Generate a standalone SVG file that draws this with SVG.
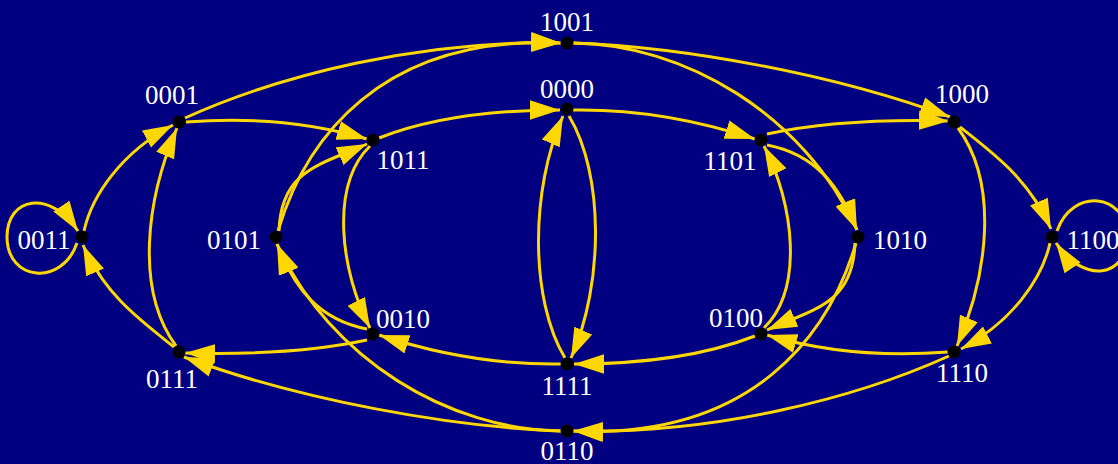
<svg xmlns="http://www.w3.org/2000/svg" width="1118" height="464" viewBox="0 0 1118 464">
<style>
.e{fill:none;stroke:#FFD700;stroke-width:3;marker-end:url(#arr)}
.n{fill:#000000}
.t{fill:#FFFFFF;font-family:"Liberation Serif","Times New Roman",serif;font-size:27px;text-anchor:middle}
</style>
<defs>
<marker id="arr" viewBox="0 0 30 20" refX="30" refY="10" markerWidth="30" markerHeight="20" markerUnits="userSpaceOnUse" orient="auto">
<path d="M0,0.3 L30,10 L0,19.7 Z" fill="#FFD700"/>
</marker>
</defs>
<rect x="0" y="0" width="1118" height="464" fill="#000080"/>
<g id="connectors">
<path class="e" d="M77,243 C62,287 7,281 7,237 C7,197 50,189 78,231"/>
<path class="e" d="M84,231 C92,195 122,152 173,125"/>
<path class="e" d="M174,347 C140,320 105,295 83,245"/>
<path class="e" d="M176,346 C135,290 146,200 177,128"/>
<path class="e" d="M185,118 C280,75 420,40 561,43"/>
<path class="e" d="M186,122 C250,117 310,122 367,139"/>
<path class="e" d="M278,231 C305,140 380,35 561,43"/>
<path class="e" d="M279,231 C281,170 320,165 367,144"/>
<path class="e" d="M367,340 C320,350 260,355 185,353"/>
<path class="e" d="M367,329 C320,320 295,290 277,244"/>
<path class="e" d="M561,431 C450,427 300,400 184,357"/>
<path class="e" d="M561,431 C450,430 330,360 277,244"/>
<path class="e" d="M370,146 C330,185 340,270 370,328"/>
<path class="e" d="M379,138 C420,122 480,110 560,110"/>
<path class="e" d="M561,364 C500,365 440,355 379,335"/>
<path class="e" d="M565,358 C530,300 530,190 563,116"/>
<path class="e" d="M1057,231 C1072,187 1127,193 1127,237 C1127,277 1084,285 1056,243"/>
<path class="e" d="M1050,243 C1042,279 1012,322 961,349"/>
<path class="e" d="M960,127 C994,154 1029,179 1051,229"/>
<path class="e" d="M958,128 C999,184 988,274 957,346"/>
<path class="e" d="M949,356 C854,399 714,434 573,431"/>
<path class="e" d="M948,352 C884,357 824,352 767,335"/>
<path class="e" d="M856,243 C829,334 754,439 573,431"/>
<path class="e" d="M855,243 C853,304 814,309 767,330"/>
<path class="e" d="M767,134 C814,124 874,119 949,121"/>
<path class="e" d="M767,145 C814,154 839,184 857,230"/>
<path class="e" d="M573,43 C684,47 834,74 950,117"/>
<path class="e" d="M573,43 C684,44 804,114 857,230"/>
<path class="e" d="M764,328 C804,289 794,204 764,146"/>
<path class="e" d="M755,336 C714,352 654,364 574,364"/>
<path class="e" d="M573,110 C634,109 694,119 755,139"/>
<path class="e" d="M569,116 C604,174 604,284 571,358"/>
</g>
<g id="n1001"><circle class="n" cx="567" cy="43" r="6.5"/><text class="t" x="567" y="31">1001</text></g>
<g id="n0000"><circle class="n" cx="567" cy="109" r="6.5"/><text class="t" x="567" y="98">0000</text></g>
<g id="n0001"><circle class="n" cx="179" cy="122" r="6.5"/><text class="t" x="172" y="104">0001</text></g>
<g id="n1011"><circle class="n" cx="373" cy="140" r="6.5"/><text class="t" x="403" y="169">1011</text></g>
<g id="n1101"><circle class="n" cx="761" cy="140" r="6.5"/><text class="t" x="730" y="170">1101</text></g>
<g id="n1000"><circle class="n" cx="954" cy="122" r="6.5"/><text class="t" x="962" y="103">1000</text></g>
<g id="n0011"><circle class="n" cx="82" cy="237" r="6.5"/><text class="t" x="44" y="249">0011</text></g>
<g id="n0101"><circle class="n" cx="276" cy="237" r="6.5"/><text class="t" x="234" y="249">0101</text></g>
<g id="n1010"><circle class="n" cx="858" cy="237" r="6.5"/><text class="t" x="900" y="249">1010</text></g>
<g id="n1100"><circle class="n" cx="1052" cy="237" r="6.5"/><text class="t" x="1093" y="249">1100</text></g>
<g id="n0111"><circle class="n" cx="179" cy="352" r="6.5"/><text class="t" x="172" y="388">0111</text></g>
<g id="n0010"><circle class="n" cx="373" cy="334" r="6.5"/><text class="t" x="403" y="328">0010</text></g>
<g id="n0100"><circle class="n" cx="761" cy="334" r="6.5"/><text class="t" x="736" y="327">0100</text></g>
<g id="n1110"><circle class="n" cx="954" cy="352" r="6.5"/><text class="t" x="962" y="382">1110</text></g>
<g id="n1111"><circle class="n" cx="567" cy="364" r="6.5"/><text class="t" x="567" y="395">1111</text></g>
<g id="n0110"><circle class="n" cx="567" cy="431" r="6.5"/><text class="t" x="567" y="460">0110</text></g>
</svg>
